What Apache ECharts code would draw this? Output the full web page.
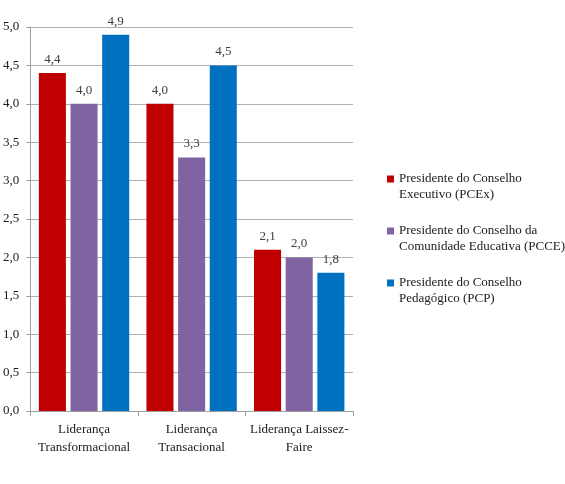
<!DOCTYPE html>
<html><head><meta charset="utf-8">
<script src="https://cdn.jsdelivr.net/npm/echarts@6/dist/echarts.min.js"></script>
<style>html,body{margin:0;padding:0;background:#fff}#c{width:565px;height:484px}</style>
</head><body><div id="c"></div>
<script>
const categories = ['Liderança\nTransformacional', 'Liderança\nTransacional', 'Liderança Laissez-\nFaire'];
const seriesNames = ['Presidente do Conselho\nExecutivo (PCEx)', 'Presidente do Conselho da\nComunidade Educativa (PCCE)', 'Presidente do Conselho\nPedagógico (PCP)'];
const pcex = [4.4, 4.0, 2.1];
const pcce = [4.0, 3.3, 2.0];
const pcp = [4.9, 4.5, 1.8];
const colors = ['#C00000', '#8064A2', '#0070C0'];
const font = "'Liberation Serif', 'Times New Roman', 'DejaVu Serif', serif";
const fmt = v => v.toFixed(1).replace('.', ',');

const chart = echarts.init(document.getElementById('c'));
const mk = (name, data, color) => ({
  name, type: 'bar', data, barGap: '17%', barCategoryGap: '16%',
  itemStyle: { color },
  label: { show: true, position: 'top', distance: 7, fontFamily: font, fontSize: 13, color: '#404040',
    formatter: p => fmt(p.value) }
});
chart.setOption({
  animation: false,
  textStyle: { fontFamily: font },
  grid: { left: 27, top: 27, right: 212, bottom: 73, containLabel: false },
  legend: {
    orient: 'vertical', left: 382, top: 150, itemWidth: 7, itemHeight: 7, itemGap: 4,
    icon: 'rect',
    formatter: n => '\n' + n,
    textStyle: { fontFamily: font, fontSize: 13, color: '#1a1a1a', lineHeight: 16 },
    data: seriesNames
  },
  xAxis: {
    type: 'category', data: categories,
    axisLine: { lineStyle: { color: '#a0a0a0' } },
    axisTick: { show: true, length: 5, lineStyle: { color: '#a0a0a0' } },
    axisLabel: { fontFamily: font, fontSize: 13, color: '#1a1a1a', lineHeight: 18, margin: 10, interval: 0 }
  },
  yAxis: {
    type: 'value', min: 0, max: 5, interval: 0.5,
    axisLine: { show: true, lineStyle: { color: '#a0a0a0' } },
    axisTick: { show: true, length: 4, lineStyle: { color: '#a0a0a0' } },
    splitLine: { lineStyle: { color: '#b0b0b0' } },
    axisLabel: { fontFamily: font, fontSize: 13, color: '#1a1a1a', margin: 11, formatter: v => fmt(v) }
  },
  series: [mk(seriesNames[0], pcex, colors[0]), mk(seriesNames[1], pcce, colors[1]), mk(seriesNames[2], pcp, colors[2])]
});
</script></body></html>
